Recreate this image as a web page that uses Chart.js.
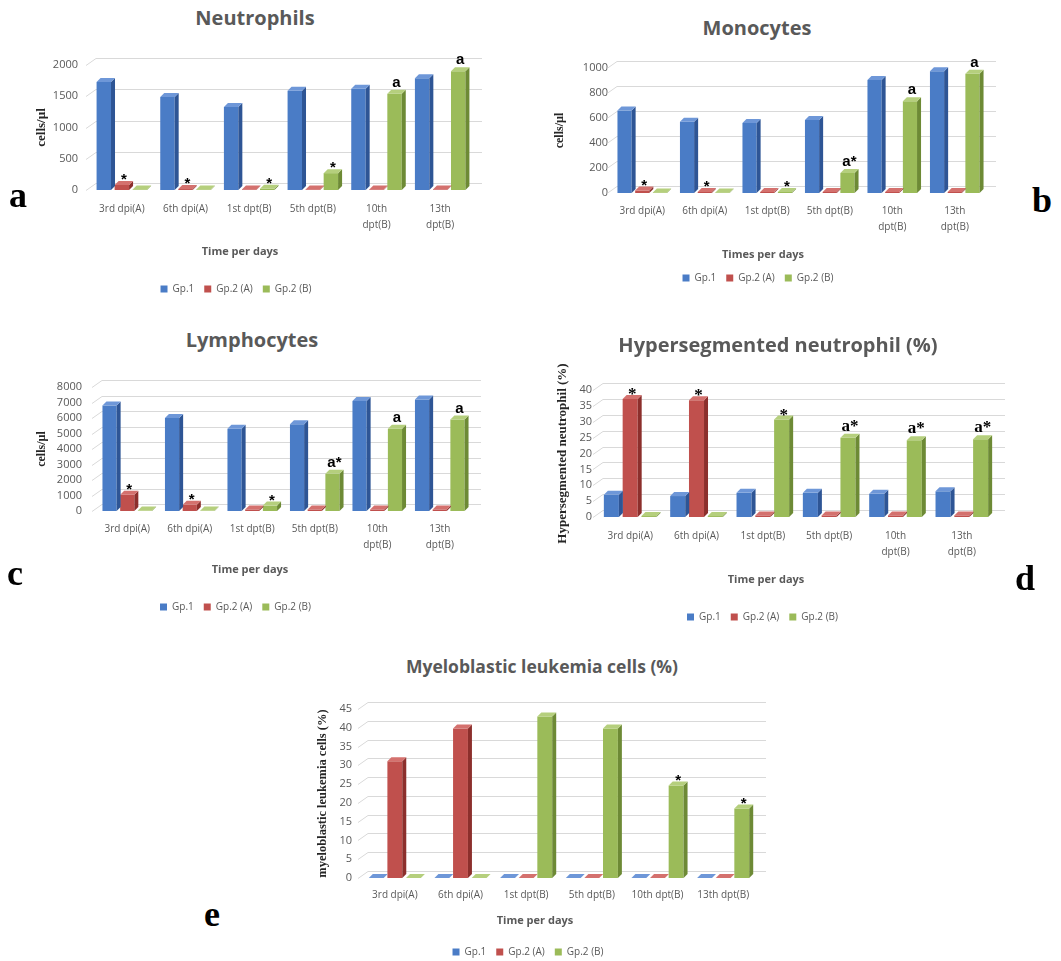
<!DOCTYPE html>
<html>
<head>
<meta charset="utf-8">
<script src="https://cdn.jsdelivr.net/npm/chart.js@4.4.1/dist/chart.umd.min.js"></script>
<style>
  body { margin: 0; background: #fff; width: 1061px; height: 961px; position: relative; overflow: hidden; font-family: "Open Sans", sans-serif; }
  canvas { position: absolute; }
  .ttl { position: absolute; transform: translate(-50%, -50%); white-space: nowrap; font-weight: 700; font-size: 20px; color: #595959; line-height: 1; }
  .cap { position: absolute; transform: translate(-50%, -50%); white-space: nowrap; font-weight: 700; font-size: 11px; color: #595959; line-height: 1; }
  .let { position: absolute; transform: translate(-50%, -50%); font-family: "Liberation Serif", serif; font-weight: 700; font-size: 36px; color: #000; line-height: 1; }
</style>
</head>
<body>
<canvas id="cA" width="512" height="264" style="left:0px;top:40px"></canvas>
<canvas id="cB" width="486" height="250" style="left:530px;top:43px"></canvas>
<canvas id="cC" width="520" height="260" style="left:0px;top:362px"></canvas>
<canvas id="cD" width="500" height="287" style="left:530px;top:345px"></canvas>
<canvas id="cE" width="490" height="283" style="left:300px;top:684px"></canvas>

<div class="ttl" style="left:255px;top:18px">Neutrophils</div>
<div class="ttl" style="left:757px;top:28px">Monocytes</div>
<div class="ttl" style="left:252px;top:340px">Lymphocytes</div>
<div class="ttl" style="left:778px;top:345px">Hypersegmented neutrophil (%)</div>
<div class="ttl" style="left:542px;top:667px;font-size:17.5px">Myeloblastic leukemia cells (%)</div>

<div class="cap" style="left:240px;top:250px">Time per days</div>
<div class="cap" style="left:763px;top:253px">Times per days</div>
<div class="cap" style="left:250px;top:568px">Time per days</div>
<div class="cap" style="left:766px;top:578px">Time per days</div>
<div class="cap" style="left:535px;top:919px">Time per days</div>

<div class="let" style="left:18px;top:195px">a</div>
<div class="let" style="left:1042px;top:200px">b</div>
<div class="let" style="left:15px;top:573px">c</div>
<div class="let" style="left:1025px;top:578px">d</div>
<div class="let" style="left:212px;top:914px">e</div>

<script>
// categories
const days = ['3rd dpi(A)', '6th dpi(A)', '1st dpt(B)', '5th dpt(B)', ['10th', 'dpt(B)'], ['13th', 'dpt(B)']];
const daysFlat = ['3rd dpi(A)', '6th dpi(A)', '1st dpt(B)', '5th dpt(B)', '10th dpt(B)', '13th dpt(B)'];
const groups = ['Gp.1', 'Gp.2 (A)', 'Gp.2 (B)'];

// a - neutrophils (cells/µl)
const neutGp1 = [1730, 1490, 1330, 1590, 1620, 1790];
const neutGp2A = [80, 15, 10, 10, 10, 10];
const neutGp2B = [10, 10, 20, 270, 1540, 1900];
const neutMarksA = ['*', '*', '', '', '', ''];
const neutMarksB = ['', '', '*', '*', 'a', 'a'];
const neutTicks = [0, 500, 1000, 1500, 2000];

// b - monocytes
const monoGp1 = [660, 570, 560, 585, 905, 975];
const monoGp2A = [20, 8, 8, 8, 8, 8];
const monoGp2B = [5, 5, 8, 160, 735, 955];
const monoMarksA = ['*', '*', '', '', '', ''];
const monoMarksB = ['', '', '*', 'a*', 'a', 'a'];
const monoTicks = [0, 200, 400, 600, 800, 1000];

// c - lymphocytes
const lymGp1 = [6800, 6000, 5300, 5600, 7100, 7200];
const lymGp2A = [1050, 400, 100, 100, 100, 100];
const lymGp2B = [30, 30, 350, 2400, 5300, 5900];
const lymMarksA = ['*', '*', '', '', '', ''];
const lymMarksB = ['', '', '*', 'a*', 'a', 'a'];
const lymTicks = [0, 1000, 2000, 3000, 4000, 5000, 6000, 7000, 8000];

// d - hypersegmented neutrophil (%)
const hypGp1 = [7.0, 6.6, 7.6, 7.6, 7.3, 8.1];
const hypGp2A = [37.2, 36.8, 0.5, 0.5, 0.5, 0.5];
const hypGp2B = [0.3, 0.3, 30.7, 25.0, 24.2, 24.5];
const hypMarksA = ['*', '*', '', '', '', ''];
const hypMarksB = ['', '', '*', 'a*', 'a*', 'a*'];
const hypTicks = [0, 5, 10, 15, 20, 25, 30, 35, 40];

// e - myeloblastic leukemia cells (%)
const myeGp1 = [0, 0, 0, 0, 0, 0];
const myeGp2A = [31.1, 39.8, 0, 0, 0, 0];
const myeGp2B = [0, 0, 43.0, 39.8, 24.6, 18.5];
const myeMarksB = ['', '', '', '', '*', '*'];
const myeTicks = [0, 5, 10, 15, 20, 25, 30, 35, 40, 45];

const fronts = ['#4A7CC6', '#C0504D', '#9BBB59'];
const sides = ['#2E5595', '#8C2F2C', '#6D8A35'];
const tops = ['#6E97D8', '#D4716E', '#B5CF7D'];
const DX = 4, DY = 4;

// fake 3d: back wall grid + side/top faces on each bar
const bar3d = {
  id: 'bar3d',
  beforeDatasetsDraw(chart) {
    const { ctx, chartArea: a, scales: { y } } = chart;
    ctx.save();
    ctx.strokeStyle = '#d9d9d9';
    ctx.lineWidth = 1;
    y.ticks.forEach(t => {
      const py = Math.round(y.getPixelForValue(t.value)) - 7 + 0.5;
      ctx.beginPath();
      ctx.moveTo(a.left + 6, py);
      ctx.lineTo(a.right + 10, py);
      ctx.moveTo(a.left - 4, py + 7);
      ctx.lineTo(a.left + 6, py);
      ctx.stroke();
    });
    ctx.restore();
  },
  afterDatasetDraw(chart, args) {
    const ctx = chart.ctx;
    const ds = chart.data.datasets[args.index];
    ctx.save();
    args.meta.data.forEach(bar => {
      const { x, y, base, width } = bar.getProps(['x', 'y', 'base', 'width'], true);
      const l = x - width / 2, r = x + width / 2;
      ctx.fillStyle = ds.sideColor;
      ctx.beginPath();
      ctx.moveTo(r, y); ctx.lineTo(r + DX, y - DY); ctx.lineTo(r + DX, base - DY); ctx.lineTo(r, base);
      ctx.closePath(); ctx.fill();
      ctx.fillStyle = ds.topColor;
      ctx.beginPath();
      ctx.moveTo(l, y); ctx.lineTo(l + DX, y - DY); ctx.lineTo(r + DX, y - DY); ctx.lineTo(r, y);
      ctx.closePath(); ctx.fill();
    });
    ctx.restore();
  }
};

// significance marks above bars
const marks = {
  id: 'marks',
  afterDatasetsDraw(chart, args, opts) {
    const ctx = chart.ctx;
    ctx.save();
    ctx.fillStyle = '#000';
    ctx.font = opts.font;
    ctx.textAlign = 'center';
    ctx.textBaseline = 'alphabetic';
    chart.data.datasets.forEach((ds, k) => {
      if (!ds.marks) return;
      chart.getDatasetMeta(k).data.forEach((bar, i) => {
        const m = ds.marks[i];
        if (!m) return;
        const top = bar.y - DY;
        const yy = m === '*' ? top + opts.starDrop : top - 3;
        ctx.fillText(m, bar.x + DX / 2, yy);
      });
    });
    ctx.restore();
  }
};

function panel(id, c) {
  const series = c.series;
  return new Chart(document.getElementById(id), {
    type: 'bar',
    data: {
      labels: c.labels,
      datasets: series.map((d, k) => ({
        label: groups[k],
        data: d,
        backgroundColor: fronts[k],
        sideColor: sides[k],
        topColor: tops[k],
        marks: c.marks[k],
        barPercentage: 0.8,
        categoryPercentage: 0.85
      }))
    },
    options: {
      responsive: false,
      animation: false,
      devicePixelRatio: 1,
      layout: { padding: { top: c.padTop || 25, right: c.padRight, left: 0, bottom: 0 } },
      plugins: {
        legend: {
          position: 'bottom',
          labels: { boxWidth: 7, boxHeight: 7, padding: 10, color: '#595959', font: { family: 'Open Sans', size: 10 } }
        },
        tooltip: { enabled: false },
        marks: { font: c.markFont, starDrop: c.starDrop }
      },
      scales: {
        x: {
          grid: { display: false, drawTicks: false },
          border: { display: false },
          ticks: { color: '#595959', font: { family: 'Open Sans', size: 10, lineHeight: 1.6 }, padding: c.xPad, maxRotation: 0, autoSkip: false },
          afterFit: s => { s.height = c.xHeight; }
        },
        y: {
          min: 0,
          max: c.ticks[c.ticks.length - 1],
          grid: { display: false, drawTicks: false },
          border: { display: false },
          afterBuildTicks: s => { s.ticks = c.ticks.map(v => ({ value: v })); },
          ticks: { color: '#595959', font: { family: 'Open Sans', size: 11 }, padding: c.yPad, autoSkip: false, callback: v => String(v) },
          title: {
            display: true, text: c.yTitle, color: '#262626',
            font: { family: 'Liberation Serif', weight: 'bold', size: c.yTitleSize },
            padding: { top: c.yTitlePad, bottom: 0 }
          },
          afterFit: s => { s.width = c.yWidth; }
        }
      }
    },
    plugins: [bar3d, marks]
  });
}

const sansMark = 'bold 15px "Liberation Sans"';
const serifMark = 'bold 17px "Liberation Serif"';

panel('cA', {
  labels: days, series: [neutGp1, neutGp2A, neutGp2B], marks: [null, neutMarksA, neutMarksB], ticks: neutTicks,
  yTitle: 'cells/µl', yTitleSize: 13, padRight: 40, yWidth: 90, xHeight: 84, xPad: 11, yPad: 12, yTitlePad: 34, markFont: sansMark, starDrop: 3
});
panel('cB', {
  labels: days, series: [monoGp1, monoGp2A, monoGp2B], marks: [null, monoMarksA, monoMarksB], ticks: monoTicks,
  yTitle: 'cells/µl', yTitleSize: 12, padRight: 30, yWidth: 81, xHeight: 70, xPad: 10, yPad: 3, yTitlePad: 23, markFont: sansMark, starDrop: 3
});
panel('cC', {
  labels: days, series: [lymGp1, lymGp2A, lymGp2B], marks: [null, lymMarksA, lymMarksB], ticks: lymTicks,
  yTitle: 'cells/µl', yTitleSize: 12, padRight: 49, yWidth: 96, xHeight: 81, xPad: 10, yPad: 14, yTitlePad: 35, markFont: sansMark, starDrop: 3
});
panel('cD', {
  labels: days, series: [hypGp1, hypGp2A, hypGp2B], marks: [null, hypMarksA, hypMarksB], ticks: hypTicks,
  yTitle: 'Hypersegmented neutrophil (%)', yTitleSize: 13, padTop: 45, padRight: 35, yWidth: 67, xHeight: 85, xPad: 11, yPad: 5, yTitlePad: 25, markFont: serifMark, starDrop: 4
});
panel('cE', {
  labels: daysFlat, series: [myeGp1, myeGp2A, myeGp2B], marks: [null, null, myeMarksB], ticks: myeTicks,
  yTitle: 'myeloblastic leukemia cells (%)', yTitleSize: 12.5, padRight: 34, yWidth: 62, xHeight: 59, xPad: 9, yPad: 10, yTitlePad: 15, markFont: sansMark, starDrop: 3
});
</script>
</body>
</html>
